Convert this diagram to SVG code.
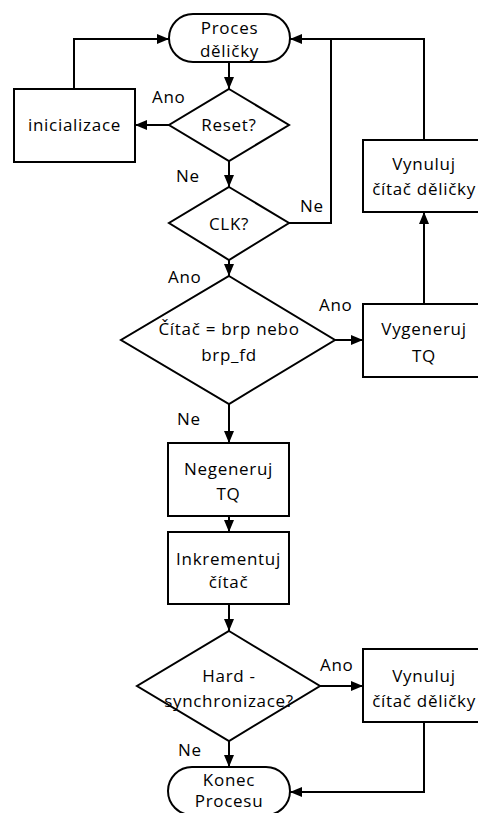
<svg xmlns="http://www.w3.org/2000/svg" width="478" height="813" viewBox="0 0 478 813">
  <defs>
    <marker id="arrow" viewBox="0 0 12 10" refX="12" refY="5" markerWidth="12" markerHeight="10" markerUnits="userSpaceOnUse" orient="auto">
      <path d="M0,0 L12,5 L0,10 Z" fill="#000"/>
    </marker>
    <style>
      .shape { fill: #fff; stroke: #000; stroke-width: 2; }
      .wire { fill: none; stroke: #000; stroke-width: 2; }
      .arr { marker-end: url(#arrow); }
      text { font-family: "Open Sans", "Noto Sans", sans-serif; font-size: 17px; letter-spacing: 0.7px; fill: #000; }
      .c { text-anchor: middle; }
    </style>
  </defs>

  <!-- connectors -->
  <g id="connectors">
    <path class="wire arr" d="M229,62 V89"/>
    <path class="wire arr" d="M169,125 H135"/>
    <path class="wire arr" d="M74,89 V39 H169"/>
    <path class="wire arr" d="M229,161 V187"/>
    <path class="wire arr" d="M289,223 H331 V39 H290"/>
    <path class="wire" d="M424,140 V39 H331"/>
    <path class="wire arr" d="M229,260 V276"/>
    <path class="wire arr" d="M335,340 H363"/>
    <path class="wire arr" d="M424,304 V212"/>
    <path class="wire arr" d="M229,404 V443"/>
    <path class="wire arr" d="M229,516 V532"/>
    <path class="wire arr" d="M229,604 V631"/>
    <path class="wire arr" d="M320,686 H363"/>
    <path class="wire arr" d="M229,741 V767"/>
    <path class="wire arr" d="M424,722 V792 H290"/>
  </g>

  <!-- branch labels -->
  <g id="labels">
    <text x="152" y="103">Ano</text>
    <text x="176" y="182">Ne</text>
    <text x="300" y="212">Ne</text>
    <text x="168" y="283">Ano</text>
    <text x="319" y="311">Ano</text>
    <text x="177" y="425">Ne</text>
    <text x="320" y="671">Ano</text>
    <text x="178" y="756">Ne</text>
  </g>

  <g id="start">
    <rect class="shape" x="169" y="14" width="121" height="48" rx="24" ry="24"/>
    <text class="c" x="229.5" y="34">Proces</text>
    <text class="c" x="229.5" y="57">děličky</text>
  </g>

  <g id="reset">
    <path class="shape" d="M229,89 L289,125 L229,161 L169,125 Z"/>
    <text class="c" x="229" y="131">Reset?</text>
  </g>

  <g id="init">
    <rect class="shape" x="14" y="89" width="121" height="73"/>
    <text class="c" x="74.5" y="131">inicializace</text>
  </g>

  <g id="clk">
    <path class="shape" d="M229,187 L289,223 L229,260 L169,223 Z"/>
    <text class="c" x="229" y="230">CLK?</text>
  </g>

  <g id="compare">
    <path class="shape" d="M229,276 L335,340 L229,404 L121,340 Z"/>
    <text class="c" x="229" y="335">Čítač = brp nebo</text>
    <text class="c" x="229" y="361">brp_fd</text>
  </g>

  <g id="generate">
    <rect class="shape" x="363" y="304" width="122" height="73"/>
    <text class="c" x="424" y="335">Vygeneruj</text>
    <text class="c" x="424" y="362">TQ</text>
  </g>

  <g id="reset-counter-top">
    <rect class="shape" x="363" y="140" width="122" height="72"/>
    <text class="c" x="424" y="170">Vynuluj</text>
    <text class="c" x="424" y="195">čítač děličky</text>
  </g>

  <g id="no-generate">
    <rect class="shape" x="168" y="443" width="121" height="73"/>
    <text class="c" x="228.5" y="475">Negeneruj</text>
    <text class="c" x="228.5" y="500">TQ</text>
  </g>

  <g id="increment">
    <rect class="shape" x="168" y="532" width="121" height="72"/>
    <text class="c" x="228.5" y="565">Inkrementuj</text>
    <text class="c" x="228.5" y="588">čítač</text>
  </g>

  <g id="hard-sync">
    <path class="shape" d="M229,631 L320,686 L229,741 L137,686 Z"/>
    <text class="c" x="229" y="682">Hard -</text>
    <text class="c" x="229" y="707">synchronizace?</text>
  </g>

  <g id="reset-counter-bottom">
    <rect class="shape" x="363" y="649" width="122" height="73"/>
    <text class="c" x="424" y="682">Vynuluj</text>
    <text class="c" x="424" y="707">čítač děličky</text>
  </g>

  <g id="end">
    <rect class="shape" x="168" y="767" width="122" height="48" rx="24" ry="24"/>
    <text class="c" x="229" y="786">Konec</text>
    <text class="c" x="229" y="807">Procesu</text>
  </g>
</svg>
